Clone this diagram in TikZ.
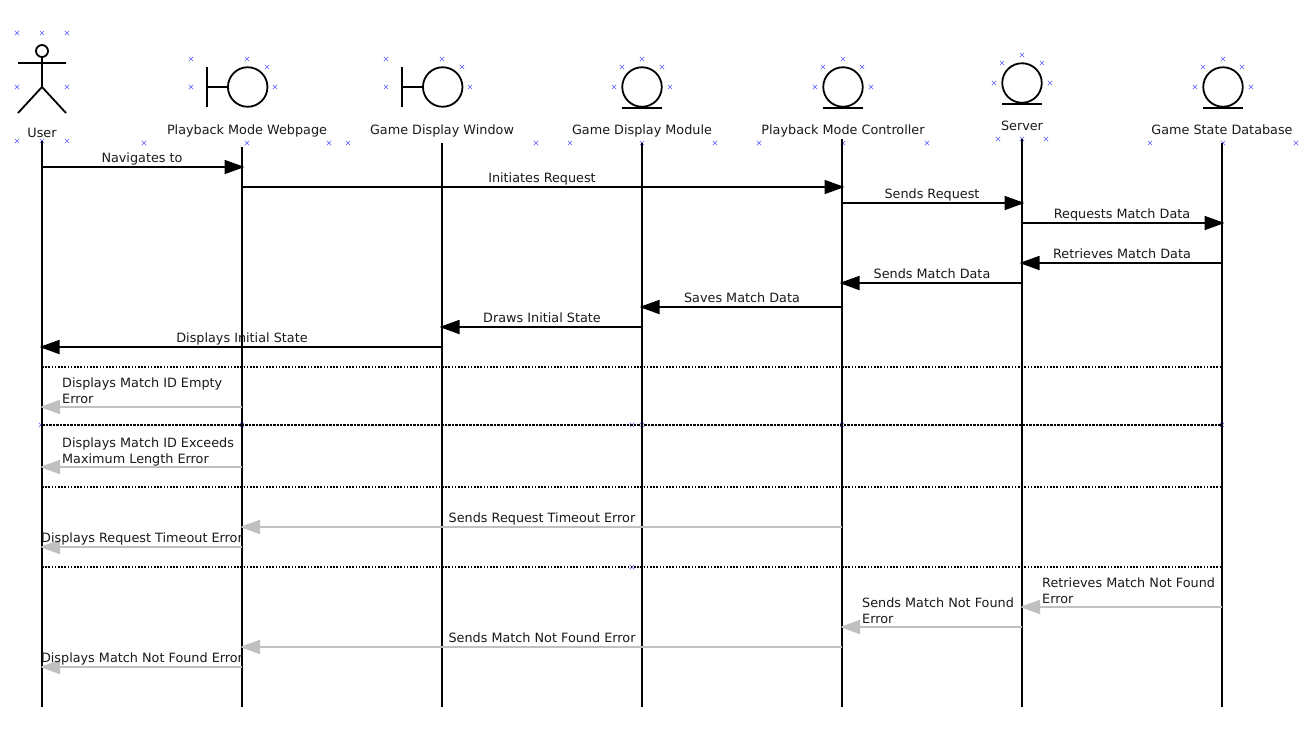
\documentclass[tikz,border=0pt]{standalone}
\usepackage{fontspec}
\setmainfont{DejaVu Sans}
\usetikzlibrary{arrows.meta}
\definecolor{markblue}{HTML}{5A5AFF}
\definecolor{errgray}{HTML}{C0C0C0}
\begin{document}
\begin{tikzpicture}[x=1pt,y=-1pt,
        figure/.style={draw=black,line width=1.8pt},
        lifeline/.style={draw=black,line width=1.8pt},
        msg/.style={draw=black,line width=1.8pt,shorten >=-2.5pt,
            -{Triangle[length=20pt,width=14pt]}},
        errmsg/.style={draw=errgray,line width=1.8pt,shorten >=-2pt,
            -{Triangle[length=20pt,width=14pt,fill=errgray]}},
        fragment/.style={draw=black,line width=1.6pt,dash pattern=on 1.6pt off 1.6pt},
        thinfragment/.style={draw=black,line width=1.2pt,dash pattern=on 2.5pt off 1pt},
        lbl/.style={inner sep=0pt,font=\fontsize{12.8pt}{16pt}\selectfont,text=black!90,
            text height=10pt,text depth=3pt},
        leftlbl/.style={inner sep=0pt,font=\fontsize{12.8pt}{16pt}\selectfont,text=black!90,
            anchor=west,align=left}]
\useasboundingbox (0,0) rectangle (1311,753);

% blue handles
\foreach \px/\py in {17/33,42/33,67/33,17/87,67/87,17/141,42/141,67/141,
        191/59,247/59,267/67,191/87,275/87,144/143,247/143,329/143,
        386/59,442/59,462/67,386/87,470/87,348/143,536/143,
        614/87,622/67,642/59,662/67,670/87,570/143,642/143,715/143,
        815/87,823/67,843/59,862/67,871/87,759/143,843/143,927/143,
        994/83,1002/63,1022/55,1042/63,1050/83,998/139,1022/139,1046/139,
        1195/87,1203/67,1223/59,1242/67,1251/87,1150/143,1223/143,1296/143,
        41/425,242/425,632/425,642/425,842/425,1222/425,632/567}{
    \draw[markblue,line width=0.6pt] (\px-2.2,\py-2.2) -- (\px+2.2,\py+2.2)
        (\px-2.2,\py+2.2) -- (\px+2.2,\py-2.2);
}

% lifelines
\foreach \name/\px/\top in {user/42/141,webpage/242/147,window/442/143,module/642/143,
        controller/842/139,server/1022/139,database/1222/143}{
    \coordinate (\name top) at (\px,\top);
    \coordinate (\name end) at (\px,707);
    \draw[lifeline] (\name top) -- (\name end);
}

% actor
\node[circle,figure,minimum size=12pt,inner sep=0pt] (head) at (42,51) {};
\coordinate (hip) at (42,87);
\coordinate (armL) at (18,63);
\coordinate (armR) at (66,63);
\coordinate (footL) at (18,113);
\coordinate (footR) at (66,113);
\draw[figure] (head) -- (hip) (armL) -- (armR) (footL) -- (hip) -- (footR);

% boundaries
\foreach \name/\px in {webpage/247.7,window/442.7}{
    \node[circle,figure,minimum size=39.5pt,inner sep=0pt] (\name fig) at (\px,87) {};
    \coordinate (\name bar) at (\px-40.7,87);
    \draw[figure] (\name bar) -- (\name fig);
    \draw[figure] ([yshift=-20pt]\name bar) -- ([yshift=20pt]\name bar);
}

% entities
\foreach \name/\px/\py in {module/642/87,controller/843/87,server/1022/83,database/1223/87}{
    \node[circle,figure,minimum size=39.5pt,inner sep=0pt] (\name fig) at (\px,\py) {};
    \draw[figure] ([xshift=-20pt]\name fig.south) -- ([xshift=20pt]\name fig.south);
}

% names
\foreach \name/\px/\py/\txt in {user/42/133.5/User,webpage/247/130.8/Playback Mode Webpage,
        window/442/130.8/Game Display Window,module/642/130.8/Game Display Module,
        controller/843/130.8/Playback Mode Controller,server/1022/126.5/Server,
        database/1222/130.8/Game State Database}{
    \node[lbl] (\name label) at (\px,\py) {\txt};
}

% alternative separators
\foreach \y/\sty in {367/fragment,425/thinfragment,487/fragment,567/fragment}{
    \coordinate (sepL\y) at (42,\y);
    \coordinate (sepR\y) at (1222,\y);
    \draw[\sty] (sepL\y) -- (sepR\y);
}

% messages
\foreach \a/\b/\y/\txt in {user/webpage/167/Navigates to,
        webpage/controller/187/Initiates Request,
        controller/server/203/Sends Request,
        server/database/223/Requests Match Data,
        database/server/263/Retrieves Match Data,
        server/controller/283/Sends Match Data,
        controller/module/307/Saves Match Data,
        module/window/327/Draws Initial State,
        window/user/347/Displays Initial State}{
    \coordinate (\a\y) at (\a top |- 0,\y);
    \coordinate (\b\y) at (\b top |- 0,\y);
    \draw[msg] (\a\y) -- (\b\y);
    \path (\a\y) -- node[lbl,yshift=8.5pt] (label\y) {\txt} (\b\y);
}
\foreach \a/\b/\y/\txt in {controller/webpage/527/Sends Request Timeout Error,
        webpage/user/547/Displays Request Timeout Error,
        controller/webpage/647/Sends Match Not Found Error,
        webpage/user/667/Displays Match Not Found Error}{
    \coordinate (\a\y) at (\a top |- 0,\y);
    \coordinate (\b\y) at (\b top |- 0,\y);
    \draw[errmsg] (\a\y) -- (\b\y);
    \path (\a\y) -- node[lbl,yshift=8.5pt] (label\y) {\txt} (\b\y);
}
\foreach \a/\b/\y/\lx/\ly/\txt in {webpage/user/407/62/391/{Displays Match ID Empty\\Error},
        webpage/user/467/62/452/{Displays Match ID Exceeds\\Maximum Length Error},
        database/server/607/1042/591/{Retrieves Match Not Found\\Error},
        server/controller/627/862/611/{Sends Match Not Found\\Error}}{
    \coordinate (\a\y) at (\a top |- 0,\y);
    \coordinate (\b\y) at (\b top |- 0,\y);
    \draw[errmsg] (\a\y) -- (\b\y);
    \node[leftlbl] (label\y) at (\lx,\ly) {\txt};
}

\end{tikzpicture}
\end{document}
